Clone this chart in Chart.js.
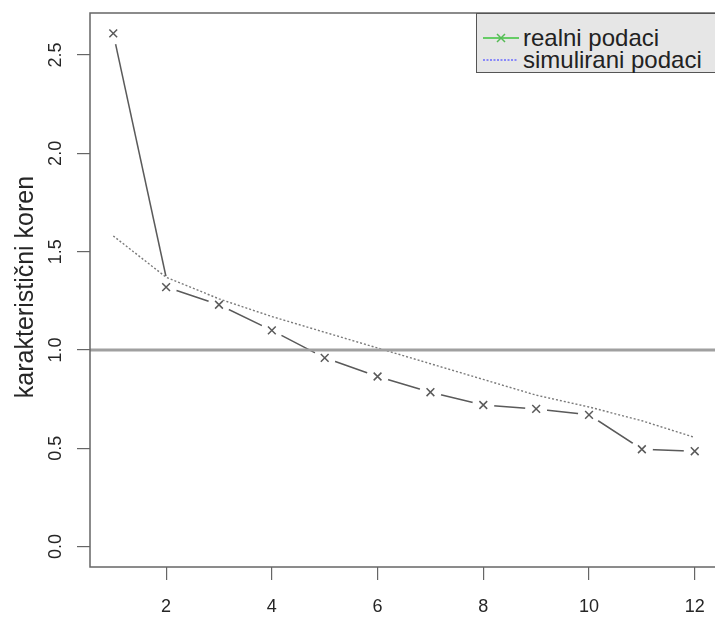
<!DOCTYPE html>
<html>
<head>
<meta charset="utf-8">
<script src="https://cdn.jsdelivr.net/npm/chart.js@4/dist/chart.umd.min.js"></script>
<style>
html, body { margin: 0; padding: 0; background: #fff; overflow: hidden; }
#wrap { position: relative; width: 715px; height: 617px; overflow: hidden; }
#c { position: absolute; left: 0; top: 0; }
#legend {
  position: absolute; left: 476px; top: 13px; width: 260px; height: 58px;
  background: #e6e6e6; border: 1px solid #555;
  font-family: "Liberation Sans", Arial, sans-serif; font-size: 24px; color: #222;
}
#legend .row { position: absolute; left: 0; height: 22px; line-height: 22px; white-space: nowrap; }
#legend svg { position: absolute; left: 5px; top: 1px; }
#legend span { position: absolute; left: 46px; top: 0; }
</style>
</head>
<body>
<div id="wrap">
  <canvas id="c" width="725" height="617"></canvas>
  <div id="legend">
    <div class="row" style="top:13px">
      <svg width="40" height="20"><line x1="1" y1="10" x2="37" y2="10" stroke="#66cc66" stroke-width="2"/><path d="M15 6 L23 14 M23 6 L15 14" stroke="#55bb55" stroke-width="1.5"/></svg>
      <span>realni podaci</span>
    </div>
    <div class="row" style="top:35px">
      <svg width="40" height="20"><line x1="1" y1="10" x2="35" y2="10" stroke="#6a6aff" stroke-width="1.5" stroke-dasharray="2,1.5"/></svg>
      <span>simulirani podaci</span>
    </div>
  </div>
</div>
<script>
/* ==== Data ==== */
const xVals = [1, 2, 3, 4, 5, 6, 7, 8, 9, 10, 11, 12];
const realVals = [2.61, 1.32, 1.23, 1.10, 0.96, 0.865, 0.785, 0.72, 0.70, 0.67, 0.495, 0.485];
const simVals = [1.58, 1.37, 1.26, 1.17, 1.09, 1.01, 0.93, 0.85, 0.77, 0.71, 0.64, 0.555];
const xTicks = [2, 4, 6, 8, 10, 12];
const yTicks = [0, 0.5, 1.0, 1.5, 2.0, 2.5];
const refLevel = 1.0;
const xRange = [0.56, 12.44];
const yRange = [-0.104, 2.714];
const yTitle = 'karakteristični koren';

const FONT = '"Liberation Sans", Arial, sans-serif';
const GRAY = '#5a5a5a';
const GAP = 11; // blank space round each marker (R type = "b")

const pts = (xs, ys) => xs.map((x, i) => ({ x: x, y: ys[i] }));
const realPts = pts(xVals, realVals);
const simPts = pts(xVals, simVals);

// datasets whose lines stop short of the markers
const GAPPED = [3, 4];

/* ==== R-like box, gaps and rotated y labels ==== */
const rPlot = {
  id: 'rPlot',
  beforeDatasetDraw(chart, args) {
    if (!GAPPED.includes(args.index)) return;
    const ctx = chart.ctx;
    const marks = chart.getDatasetMeta(0).data;
    ctx.save();
    ctx.beginPath();
    ctx.rect(0, 0, chart.width, chart.height);
    marks.forEach(p => {
      ctx.moveTo(p.x + GAP, p.y);
      ctx.arc(p.x, p.y, GAP, 0, Math.PI * 2);
    });
    ctx.clip('evenodd');
  },
  afterDatasetDraw(chart, args) {
    if (GAPPED.includes(args.index)) chart.ctx.restore();
  },
  afterDraw(chart) {
    const { ctx, chartArea: a, scales: { y } } = chart;
    ctx.save();
    ctx.strokeStyle = '#666';
    ctx.lineWidth = 1.5;
    ctx.strokeRect(a.left, a.top, a.right - a.left, a.bottom - a.top);

    ctx.fillStyle = '#262626';
    ctx.textAlign = 'center';
    ctx.textBaseline = 'middle';
    ctx.font = '18px ' + FONT;
    yTicks.forEach(v => {
      ctx.save();
      ctx.translate(56, y.getPixelForValue(v));
      ctx.rotate(-Math.PI / 2);
      ctx.fillText(v.toFixed(1), 0, 0);
      ctx.restore();
    });
    ctx.font = '25px ' + FONT;
    ctx.save();
    ctx.translate(26, (a.top + a.bottom) / 2 - 3);
    ctx.rotate(-Math.PI / 2);
    ctx.fillText(yTitle, 0, 0);
    ctx.restore();
    ctx.restore();
  }
};

/* ==== Chart ==== */
new Chart(document.getElementById('c'), {
  type: 'scatter',
  data: {
    datasets: [
      { // markers
        data: realPts, showLine: false, order: 0,
        pointStyle: 'crossRot', pointRadius: 5.5, pointBorderWidth: 1.5,
        pointBorderColor: GRAY, pointHoverRadius: 5.5
      },
      { // reference level
        data: [{ x: xRange[0], y: refLevel }, { x: xRange[1], y: refLevel }],
        showLine: true, order: 1, pointRadius: 0,
        borderColor: '#a0a0a0', borderWidth: 3
      },
      { // simulirani podaci
        data: simPts, showLine: true, order: 2, pointRadius: 0,
        borderColor: '#7a7a7a', borderWidth: 1.4, borderDash: [2, 2]
      },
      { // realni podaci line
        data: realPts.slice(1), showLine: true, order: 3, pointRadius: 0,
        borderColor: GRAY, borderWidth: 1.5
      },
      { // first drop
        data: [realPts[0], simPts[1]], showLine: true, order: 4, pointRadius: 0,
        borderColor: GRAY, borderWidth: 1.5
      }
    ]
  },
  options: {
    responsive: false,
    devicePixelRatio: 1,
    animation: false,
    layout: { padding: { left: 0, top: 13, right: 4, bottom: 0 } },
    plugins: { legend: { display: false }, tooltip: { enabled: false } },
    scales: {
      x: {
        type: 'linear', min: xRange[0], max: xRange[1],
        afterBuildTicks: s => { s.ticks = xTicks.map(v => ({ value: v })); },
        afterFit: s => { s.height = 50; },
        grid: { drawOnChartArea: false, drawTicks: true, tickLength: 13, color: '#666', lineWidth: 1.2 },
        border: { display: false },
        ticks: { color: '#262626', font: { family: FONT, size: 18 }, padding: 16, maxRotation: 0 }
      },
      y: {
        type: 'linear', min: yRange[0], max: yRange[1],
        afterBuildTicks: s => { s.ticks = yTicks.map(v => ({ value: v })); },
        afterFit: s => { s.width = 90; },
        grid: { drawOnChartArea: false, drawTicks: true, tickLength: 13, color: '#666', lineWidth: 1.2 },
        border: { display: false },
        ticks: { display: false }
      }
    }
  },
  plugins: [rPlot]
});
</script>
</body>
</html>
